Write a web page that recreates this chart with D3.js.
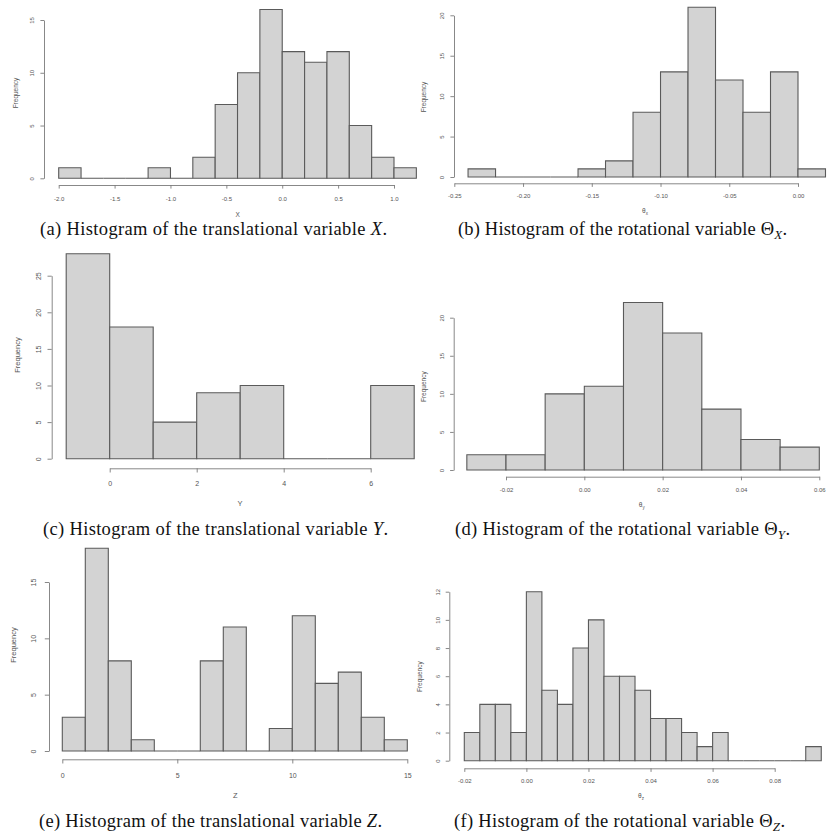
<!DOCTYPE html>
<html><head><meta charset="utf-8">
<script src="https://cdn.jsdelivr.net/npm/d3@7"></script>
<style>body{margin:0;background:#fff}svg{display:block}</style>
</head><body><svg id="c" width="831" height="838"></svg>
<script>
// ---------- data ----------
const edgesX = [-2.0,-1.8,-1.6,-1.4,-1.2,-1.0,-0.8,-0.6,-0.4,-0.2,0.0,0.2,0.4,0.6,0.8,1.0,1.2];
const countsX = [1,0,0,0,1,0,2,7,10,16,12,11,12,5,2,1];
const xTicksX = [-2.0,-1.5,-1.0,-0.5,0.0,0.5,1.0];
const yTicksX = [0,5,10,15];

const edgesThetaX = [-0.24,-0.22,-0.20,-0.18,-0.16,-0.14,-0.12,-0.10,-0.08,-0.06,-0.04,-0.02,0.00,0.02];
const countsThetaX = [1,0,0,0,1,2,8,13,21,12,8,13,1];
const xTicksThetaX = [-0.25,-0.20,-0.15,-0.10,-0.05,0.00];
const yTicksThetaX = [0,5,10,15,20];

const edgesY = [-1,0,1,2,3,4,5,6,7];
const countsY = [28,18,5,9,10,0,0,10];
const xTicksY = [0,2,4,6];
const yTicksY = [0,5,10,15,20,25];

const edgesThetaY = [-0.03,-0.02,-0.01,0.00,0.01,0.02,0.03,0.04,0.05,0.06];
const countsThetaY = [2,2,10,11,22,18,8,4,3];
const xTicksThetaY = [-0.02,0.00,0.02,0.04,0.06];
const yTicksThetaY = [0,5,10,15,20];

const edgesZ = [0,1,2,3,4,5,6,7,8,9,10,11,12,13,14,15];
const countsZ = [3,18,8,1,0,0,8,11,0,2,12,6,7,3,1];
const xTicksZ = [0,5,10,15];
const yTicksZ = [0,5,10,15];

const edgesThetaZ = [-0.020,-0.015,-0.010,-0.005,0.000,0.005,0.010,0.015,0.020,0.025,0.030,0.035,0.040,0.045,0.050,0.055,0.060,0.065,0.070,0.075,0.080,0.085,0.090,0.095];
const countsThetaZ = [2,4,4,2,12,5,4,8,10,6,6,5,3,3,2,1,2,0,0,0,0,0,1];
const xTicksThetaZ = [-0.02,0.00,0.02,0.04,0.06,0.08];
const yTicksThetaZ = [0,2,4,6,8,10,12];

const yLabel = "Frequency";
const xLabels = [["X",""],["θ","x"],["Y",""],["θ","y"],["Z",""],["θ","z"]];
const captionLead = ["(a) Histogram of the translational variable ","(b) Histogram of the rotational variable ","(c) Histogram of the translational variable ","(d) Histogram of the rotational variable ","(e) Histogram of the translational variable ","(f) Histogram of the rotational variable "];
const captionVar = [["X",""],["Θ","X"],["Y",""],["Θ","Y"],["Z",""],["Θ","Z"]];
const tickFormats = [".1f",".2f","d",".2f","d",".2f"];

// ---------- layout ----------
const layout = [
  {xr:[58.7,394],  yr:[178.3,20],  axY:185,   axX:44,    xtl:199,   ytl:32,    xl:[237.7,214.3], fr:[15.7,93],  cap:[213.5,235], cw:347, fs:6},
  {xr:[454.3,798], yr:[177,15.3],  axY:183.3, axX:454,   xtl:196,   ytl:441.7, xl:[645,211],     fr:[424,97],   cap:[622.5,235], cw:329, fs:6},
  {xr:[109.7,370.7],yr:[458.7,275.7],axY:468.3,axX:51.7, xtl:483.3, ytl:39,    xl:[240,503.3],   fr:[17,355],   cap:[215.5,535], cw:345, fs:7},
  {xr:[506,819.3], yr:[470,317.7], axY:476.7, axX:453.7, xtl:490,   ytl:441.7, xl:[641.7,505],   fr:[424,386.7],cap:[622.5,535], cw:335, fs:6},
  {xr:[62.3,407.3],yr:[751,582],   axY:759.3, axX:49,    xtl:775.3, ytl:33.3,  xl:[235.3,795],   fr:[13,645],   cap:[210.5,827], cw:343, fs:7},
  {xr:[464.3,774.7],yr:[760.7,591.7],axY:768.3,axX:449.3,xtl:781,   ytl:437.7, xl:[641,796],     fr:[420,676.7],cap:[619.5,827], cw:331, fs:6}
];

const panels = [
  {edges:edgesX, counts:countsX, xt:xTicksX, yt:yTicksX},
  {edges:edgesThetaX, counts:countsThetaX, xt:xTicksThetaX, yt:yTicksThetaX},
  {edges:edgesY, counts:countsY, xt:xTicksY, yt:yTicksY},
  {edges:edgesThetaY, counts:countsThetaY, xt:xTicksThetaY, yt:yTicksThetaY},
  {edges:edgesZ, counts:countsZ, xt:xTicksZ, yt:yTicksZ},
  {edges:edgesThetaZ, counts:countsThetaZ, xt:xTicksThetaZ, yt:yTicksThetaZ}
];

const svg = d3.select("#c");
svg.append("rect").attr("width",831).attr("height",838).attr("fill","#fff");
const sans = "'Liberation Sans', Arial, sans-serif";
const serif = "'Liberation Serif', 'Times New Roman', serif";
const axisCol = "#7a7a7a", txtCol = "#555";

panels.forEach((p,i)=>{
  const L = layout[i];
  const x = d3.scaleLinear().domain([p.xt[0], p.xt[p.xt.length-1]]).range(L.xr);
  const y = d3.scaleLinear().domain([0, p.yt[p.yt.length-1]]).range(L.yr);
  const g = svg.append("g");
  const bins = p.counts.map((c,k)=>({x0:p.edges[k], x1:p.edges[k+1], c}));
  g.selectAll("path.bar").data(bins).join("path").attr("class","bar")
    .attr("d", d=>{
      const p0 = d3.path();
      p0.moveTo(x(d.x0), y(0)); p0.lineTo(x(d.x0), y(d.c)); p0.lineTo(x(d.x1), y(d.c)); p0.lineTo(x(d.x1), y(0)); p0.closePath();
      return p0.toString();
    })
    .attr("fill","#d3d3d3").attr("stroke","#5a5a5a").attr("stroke-width",1.1);

  const fmt = d3.format(tickFormats[i]);
  const xa = g.append("g").attr("transform",`translate(0,${L.axY})`)
    .call(d3.axisBottom(x).tickValues(p.xt).tickSize(L.fs*0.6).tickSizeOuter(0).tickFormat(d=>fmt(d).replace("−","-")));
  xa.selectAll("text").attr("y", L.xtl-L.axY).attr("dy","0.35em")
    .attr("fill",txtCol).style("font-family",sans).style("font-size",L.fs+"px");
  const ya = g.append("g").attr("transform",`translate(${L.axX},0)`)
    .call(d3.axisLeft(y).tickValues(p.yt).tickSize(L.fs*0.6).tickSizeOuter(0).tickFormat(d3.format("d")));
  ya.selectAll("text").attr("x",0).attr("dy","0.35em").attr("text-anchor","middle")
    .attr("transform",`translate(${L.ytl-L.axX},0) rotate(-90)`)
    .attr("fill",txtCol).style("font-family",sans).style("font-size",L.fs+"px");
  [xa,ya].forEach(a=>{a.selectAll("path,line").attr("stroke",axisCol).attr("stroke-width",0.9);});

  const xl = g.append("text").attr("x",L.xl[0]).attr("y",L.xl[1]).attr("dy","0.35em")
    .attr("text-anchor","middle").attr("fill",txtCol).style("font-family",sans).style("font-size",(L.fs+0.5)+"px")
    .text(xLabels[i][0]);
  if (xLabels[i][1]) xl.append("tspan").attr("dy","0.3em").style("font-size",(L.fs-1.5)+"px").text(xLabels[i][1]);
  g.append("text").attr("transform",`translate(${L.fr[0]},${L.fr[1]}) rotate(-90)`).attr("dy","0.35em")
    .attr("text-anchor","middle").attr("fill",txtCol).style("font-family",sans).style("font-size",(L.fs+0.5)+"px")
    .text(yLabel);

  const cap = g.append("text").attr("x",L.cap[0]).attr("y",L.cap[1]).attr("text-anchor","middle")
    .attr("fill","#111").style("font-family",serif).style("font-size","18.5px")
    .attr("textLength",L.cw).attr("lengthAdjust","spacing");
  cap.append("tspan").text(captionLead[i]);
  const v = captionVar[i];
  if (v[1]) {
    cap.append("tspan").text(v[0]);
    cap.append("tspan").attr("dy",4).style("font-style","italic").style("font-size","13px").text(v[1]);
    cap.append("tspan").attr("dy",-4).text(".");
  } else {
    cap.append("tspan").style("font-style","italic").text(v[0]);
    cap.append("tspan").text(".");
  }
});
</script></body></html>
